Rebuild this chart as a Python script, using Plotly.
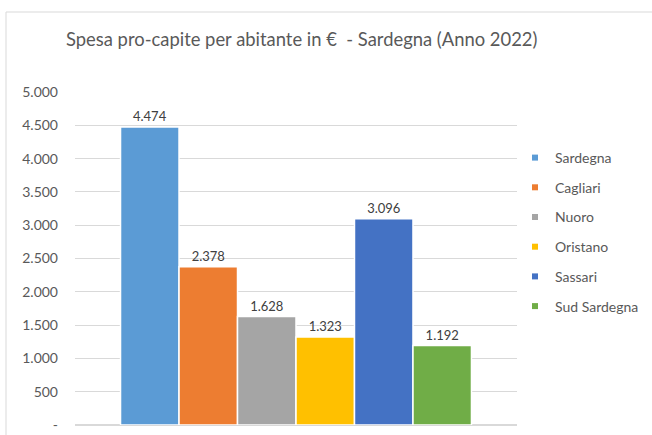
import plotly.graph_objects as go

title = 'Spesa pro-capite per abitante in €  - Sardegna (Anno 2022)'
province = ['Sardegna', 'Cagliari', 'Nuoro', 'Oristano', 'Sassari', 'Sud Sardegna']
spesa = [4474, 2378, 1628, 1323, 3096, 1192]
colori = ['#5B9BD5', '#ED7D31', '#A5A5A5', '#FFC000', '#4472C4', '#70AD47']
tick_vals = [0, 500, 1000, 1500, 2000, 2500, 3000, 3500, 4000, 4500, 5000]
tick_text = ['-', '500', '1.000', '1.500', '2.000', '2.500', '3.000', '3.500', '4.000', '4.500', '5.000']

W, H = 652, 435
L, R, T, B = 75, 135, 92, 10
pw, ph = W - L - R, H - T - B

fig = go.Figure()
for nome, val, col in zip(province, spesa, colori):
    fig.add_trace(go.Bar(x=['Anno 2022'], y=[val], name=nome, showlegend=False,
                         marker=dict(color=col, line=dict(color='white', width=1.5)),
                         texttemplate='%{y:,d}', textposition='outside',
                         cliponaxis=False, textfont=dict(size=13, color='#404040', family='Lato')))
# voci di legenda con quadratino piccolo
for nome, col in zip(province, colori):
    fig.add_trace(go.Scatter(x=['Anno 2022'], y=[None], mode='markers', name=nome, legendgroup=nome,
                             marker=dict(symbol='square', size=6, color=col)))

fig.update_layout(
    width=W, height=H, margin=dict(l=L, r=R, t=T, b=B, autoexpand=False),
    paper_bgcolor='white', plot_bgcolor='white',
    separators=',.',
    barmode='group', bargap=0.206, bargroupgap=0,
    font=dict(family='Lato', color='#595959', size=14),
    title=dict(text=title, x=66 / W, xanchor='left', y=1 - 40 / H, yanchor='middle',
               font=dict(size=18.4, color='#595959', family='Lato')),
    xaxis=dict(showticklabels=False, showgrid=False, zeroline=False, showline=False),
    yaxis=dict(range=[0, 5000], tickvals=tick_vals, ticktext=tick_text, showgrid=True, gridcolor='#D9D9D9',
               gridwidth=1, zeroline=True, zerolinecolor='#D9D9D9', ticks='', ticklabelstandoff=16,
               tickfont=dict(size=14, color='#595959')),
    legend=dict(x=(515 - L) / pw, xanchor='left', y=(425 - 142) / ph, yanchor='top', tracegroupgap=8.5,
                traceorder='grouped', itemwidth=30, font=dict(size=14, color='#595959'),
                bgcolor='rgba(0,0,0,0)'),
    showlegend=True,
)
fig.add_shape(type='rect', xref='paper', yref='paper', x0=(6 - L) / pw, x1=(660 - L) / pw,
              y0=(425 - 445) / ph, y1=(425 - 12) / ph, line=dict(color='#D9D9D9', width=1))
# niente margine del body, la figura parte dall'angolo della finestra
fig.write_html('out.html', config={'displayModeBar': False}, post_script="document.body.style.margin='0';")
